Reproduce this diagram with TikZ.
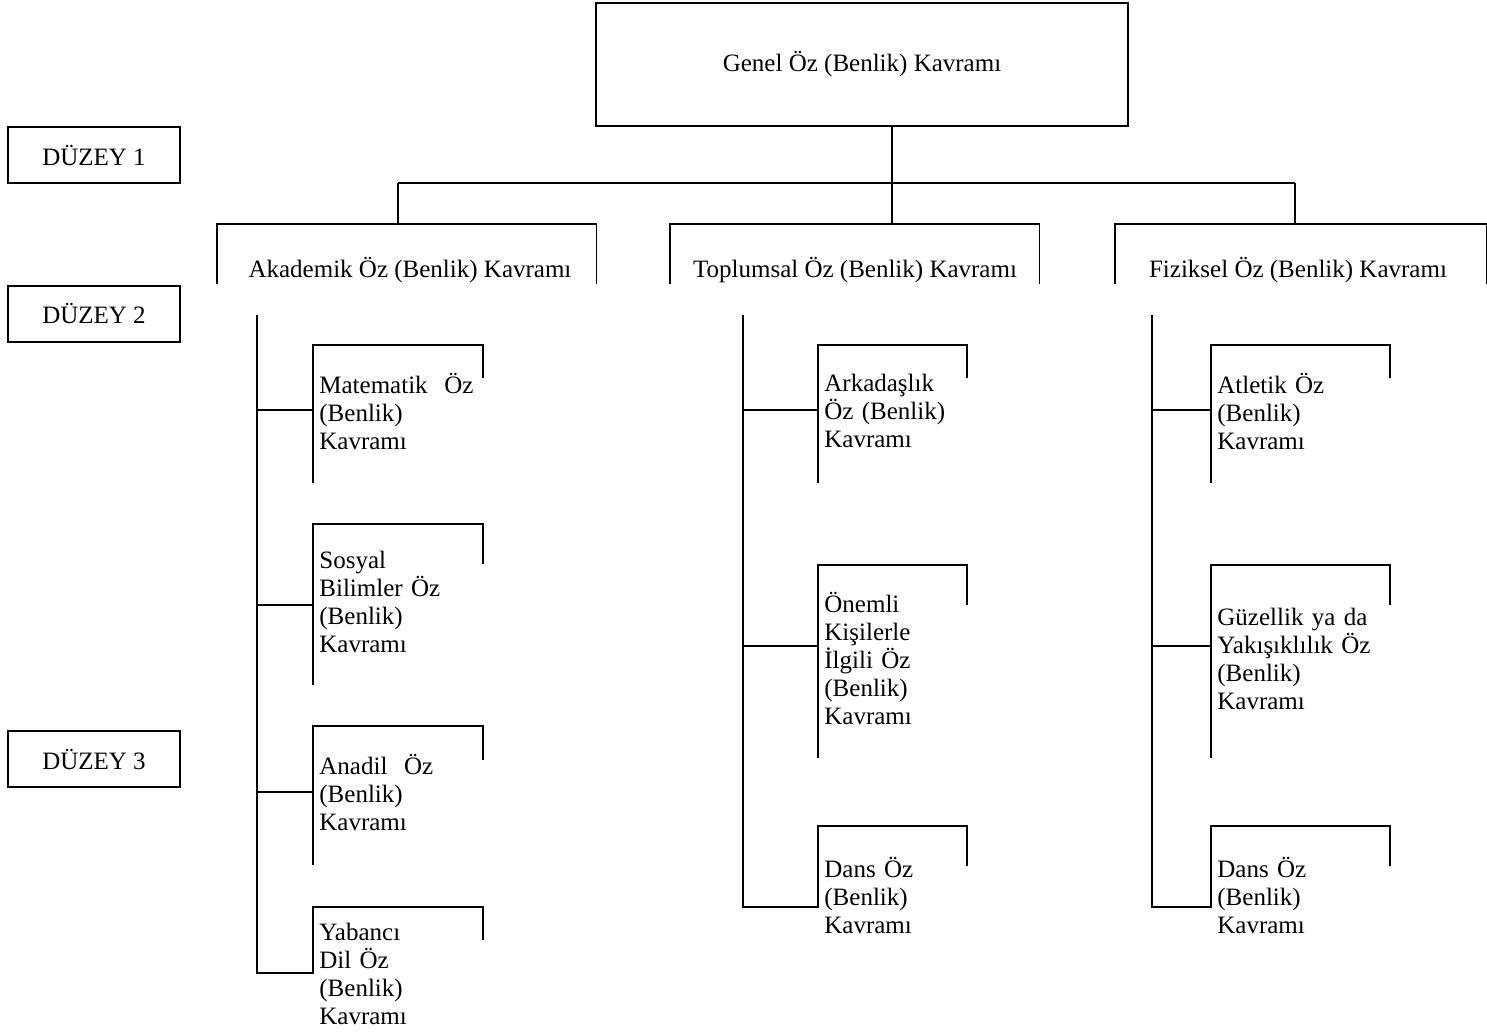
\documentclass[tikz,border=0pt]{standalone}
\usepackage{fontspec}
\setmainfont{Liberation Serif}
\begin{document}
\begin{tikzpicture}[x=0.5pt,y=0.5pt,yscale=-1,xscale=1,
	every node/.style={font=\fontsize{12.5}{14}\selectfont},
	ln/.style={line width=0.9pt},
	levelbox/.style={draw,line width=1pt,minimum width=86pt,minimum height=28pt,inner sep=0pt},
	areabox/.style={minimum width=#1,minimum height=30pt,inner sep=0pt},
	subbox/.style={anchor=north west,inner xsep=3pt,inner ysep=0pt,text width=#1,align=left}]
	%set diagram left start at 0, and has height of 1034
	\useasboundingbox (0,0) rectangle (1487,1034);
	
	%Shape: Level labels
	\node[levelbox] (lev1) at (94,155) {DÜZEY 1};
	\node[levelbox] (lev2) at (94,313.5) {DÜZEY 2};
	\node[levelbox] (lev3) at (94,759) {DÜZEY 3};
	
	%Shape: Top box
	\node[draw,ln,minimum width=266pt,minimum height=61.5pt] (genel) at (862,64.5) {Genel Öz (Benlik) Kavramı};
	
	%Shape: Level 2 frames
	\node[areabox=189.5pt] (akabox) at (406.5,254) {};
	\node[areabox=184.5pt] (topbox) at (854.5,254) {};
	\node[areabox=185.5pt] (fizbox) at (1300.5,254) {};
	\draw[ln] (akabox.south west) |- (akabox.north east) -- (akabox.south east);
	\draw[ln] (topbox.south west) |- (topbox.north east) -- (topbox.south east);
	\draw[ln] (fizbox.south west) |- (fizbox.north east) -- (fizbox.south east);
	% Text Node
	\node (aka) at (410,270) {Akademik Öz (Benlik) Kavramı};
	% Text Node
	\node (top) at (855,270) {Toplumsal Öz (Benlik) Kavramı};
	% Text Node
	\node (fiz) at (1298,270) {Fiziksel Öz (Benlik) Kavramı};
	
	%Straight Lines: bus
	\coordinate (hub) at (892,183);
	\coordinate (bus-l) at (398,183);
	\coordinate (bus-r) at (1295,183);
	\draw[ln] (genel.south -| hub) -- (hub);
	\draw[ln] (bus-l) -- (bus-r);
	\draw[ln] (bus-l) -- (bus-l |- akabox.north);
	\draw[ln] (hub) -- (hub |- topbox.north);
	\draw[ln] (bus-r) -- (bus-r |- fizbox.north);
	
	%Shape: Akademik column
	\node[subbox=78.5pt,minimum height=66pt] (mat) at (313,345) {Matematik~ Öz\\(Benlik)\\Kavramı};
	\node[subbox=78.5pt,minimum height=77.5pt] (sos) at (313,524) {Sosyal\\Bilimler Öz\\(Benlik)\\Kavramı};
	\node[subbox=78.5pt,minimum height=66.5pt] (ana) at (313,726) {Anadil~ Öz\\(Benlik)\\Kavramı};
	\node[subbox=78.5pt,minimum height=66.5pt] (yab) at (313,907) {Yabancı\\Dil Öz\\(Benlik)\\Kavramı};
	\coordinate (ak-top) at (257,315);
	\coordinate (ak-b1) at (257,410);
	\coordinate (ak-b2) at (257,605);
	\coordinate (ak-b3) at (257,792);
	\coordinate (ak-end) at (257,973);
	\draw[ln] (mat.west |- 0,483) |- (mat.north east) -- ++(0,33);
	\draw[ln] (sos.west |- 0,685) |- (sos.north east) -- ++(0,40);
	\draw[ln] (ana.west |- 0,865) |- (ana.north east) -- ++(0,34);
	\draw[ln] (ak-top) -- (ak-end) -- (yab.west |- ak-end) |- (yab.north east) -- ++(0,33);
	\draw[ln] (ak-b1) -- (mat.west |- ak-b1);
	\draw[ln] (ak-b2) -- (sos.west |- ak-b2);
	\draw[ln] (ak-b3) -- (ana.west |- ak-b3);
	
	%Shape: Toplumsal column
	\node[subbox=68pt,minimum height=66pt] (ark) at (818,345) {Arkadaşlık\\Öz (Benlik)\\Kavramı};
	\node[subbox=68pt,minimum height=93.5pt] (onm) at (818,565) {Önemli\\Kişilerle\\İlgili Öz\\(Benlik)\\Kavramı};
	\node[subbox=68pt,minimum height=69pt] (dns) at (818,826) {Dans Öz\\(Benlik)\\Kavramı};
	\coordinate (tp-top) at (743,315);
	\coordinate (tp-b1) at (743,410);
	\coordinate (tp-b2) at (743,646);
	\coordinate (tp-end) at (743,907);
	\draw[ln] (ark.west |- 0,483) |- (ark.north east) -- ++(0,33);
	\draw[ln] (onm.west |- 0,758) |- (onm.north east) -- ++(0,40);
	\draw[ln] (tp-top) -- (tp-end) -- (dns.west |- tp-end) |- (dns.north east) -- ++(0,40);
	\draw[ln] (tp-b1) -- (ark.west |- tp-b1);
	\draw[ln] (tp-b2) -- (onm.west |- tp-b2);
	
	%Shape: Fiziksel column
	\node[subbox=83pt,minimum height=66pt] (atl) at (1211,345) {Atletik Öz\\(Benlik)\\Kavramı};
	\node[subbox=83pt,minimum height=93.5pt] (guz) at (1211,565) {Güzellik ya da\\Yakışıklılık Öz\\(Benlik)\\Kavramı};
	\node[subbox=83pt,minimum height=69pt] (dnsf) at (1211,826) {Dans Öz\\(Benlik)\\Kavramı};
	\coordinate (fz-top) at (1152,315);
	\coordinate (fz-b1) at (1152,410);
	\coordinate (fz-b2) at (1152,646);
	\coordinate (fz-end) at (1152,907);
	\draw[ln] (atl.west |- 0,483) |- (atl.north east) -- ++(0,33);
	\draw[ln] (guz.west |- 0,758) |- (guz.north east) -- ++(0,40);
	\draw[ln] (fz-top) -- (fz-end) -- (dnsf.west |- fz-end) |- (dnsf.north east) -- ++(0,40);
	\draw[ln] (fz-b1) -- (atl.west |- fz-b1);
	\draw[ln] (fz-b2) -- (guz.west |- fz-b2);
	
\end{tikzpicture}
\end{document}
